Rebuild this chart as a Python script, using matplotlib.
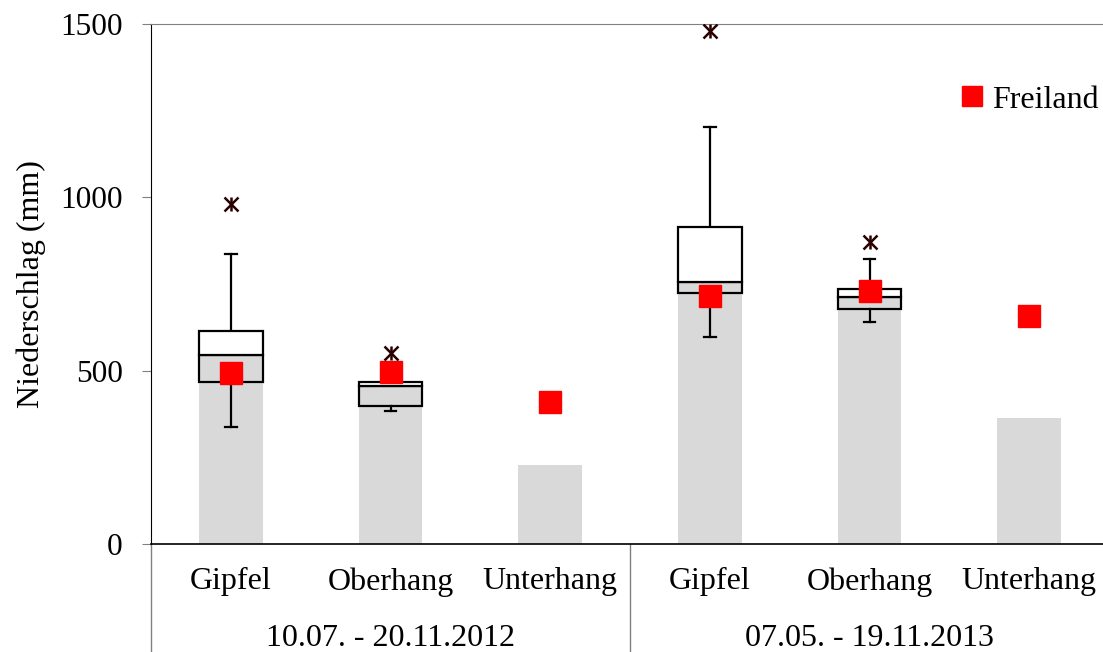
import numpy as np
import matplotlib.pyplot as plt
from matplotlib.lines import Line2D

# categories and period groups
sites = ["Gipfel", "Oberhang", "Unterhang", "Gipfel", "Oberhang", "Unterhang"]
periods = ["10.07. - 20.11.2012", "07.05. - 19.11.2013"]

# gray bars (median / single value)
bar_vals = [546, 456, 228, 757, 713, 363]

# box plot statistics (nan = no box)
nan = np.nan
q1 = [468, 399, nan, 723, 678, nan]
median = [546, 456, nan, 757, 713, nan]
q3 = [614, 468, nan, 915, 736, nan]
whisk_lo = [338, 384, nan, 598, 641, nan]
whisk_hi = [836, 478, nan, 1203, 822, nan]
outliers = [982, 550, nan, 1481, 870, nan]

# open field precipitation
freiland = [493, 495, 410, 714, 731, 658]

plt.rcParams['font.family'] = ['Liberation Serif', 'DejaVu Serif']
fs = 23

fig = plt.figure(figsize=(11.03, 6.52), dpi=100)
ax = fig.add_axes([151 / 1103, 108 / 652, 958 / 1103, 520 / 652])

x = np.arange(len(sites))
w = 0.4

ax.bar(x, bar_vals, width=w, color='#d9d9d9', zorder=1)

for i in range(len(sites)):
    if np.isnan(q1[i]):
        continue
    # lower box segment (transparent), upper segment white
    ax.bar(x[i], median[i] - q1[i], bottom=q1[i], width=w, fill=False,
           edgecolor='black', linewidth=1.6, zorder=3)
    ax.bar(x[i], q3[i] - median[i], bottom=median[i], width=w, color='white',
           edgecolor='black', linewidth=1.6, zorder=3)
    # whiskers with caps
    cap = 0.037
    ax.plot([x[i], x[i]], [q3[i], whisk_hi[i]], color='black', lw=1.6, zorder=2)
    ax.plot([x[i], x[i]], [whisk_lo[i], q1[i]], color='black', lw=1.6, zorder=2)
    ax.plot([x[i] - cap, x[i] + cap], [whisk_hi[i]] * 2, color='black', lw=1.6, zorder=2)
    ax.plot([x[i] - cap, x[i] + cap], [whisk_lo[i]] * 2, color='black', lw=1.6, zorder=2)

ax.plot(x, freiland, linestyle='none', marker='s', markersize=15.5,
        color='#ff0000', zorder=5)
# Excel-style star: x with a vertical stroke
for m in ['x', '|']:
    ax.plot(x, outliers, linestyle='none', marker=m, markersize=10,
            markeredgecolor='#2a0000', markeredgewidth=1.8, zorder=6)

ax.set_xlim(-0.5, 5.5)
ax.set_ylim(0, 1500)
ax.set_yticks([0, 500, 1000, 1500])
ax.tick_params(axis='y', direction='out', length=6.5, color='#808080',
               labelsize=22.5, pad=14)
ax.set_xticks([])
ax.set_ylabel('Niederschlag (mm)', fontsize=fs, labelpad=10)

ax.spines['right'].set_visible(False)
ax.spines['top'].set_color('#808080')
ax.spines['left'].set_color('black')
ax.spines['bottom'].set_color('black')
ax.spines['bottom'].set_linewidth(1.2)

# two-level category axis
trans = ax.get_xaxis_transform()
for i, name in enumerate(sites):
    ax.text(x[i], -0.073, name, transform=trans, ha='center', va='center',
            fontsize=fs)
for g, label in enumerate(periods):
    ax.text(g * 3 + 1, -0.182, label, transform=trans, ha='center',
            va='center', fontsize=fs)
for xs in [-0.5, 2.5]:
    ax.add_line(Line2D([xs, xs], [0, -0.21], transform=trans, color='#808080',
                       lw=1, clip_on=False))

handle = Line2D([], [], linestyle='none', marker='s', markersize=15,
                color='#ff0000')
fig.legend([handle], ['Freiland'], loc='center left',
           bbox_to_anchor=(959 / 1103, 1 - 100 / 652), frameon=False,
           fontsize=fs, handlelength=0.8, handletextpad=0.25,
           borderpad=0, borderaxespad=0)

fig.savefig('out.png', dpi=100)
